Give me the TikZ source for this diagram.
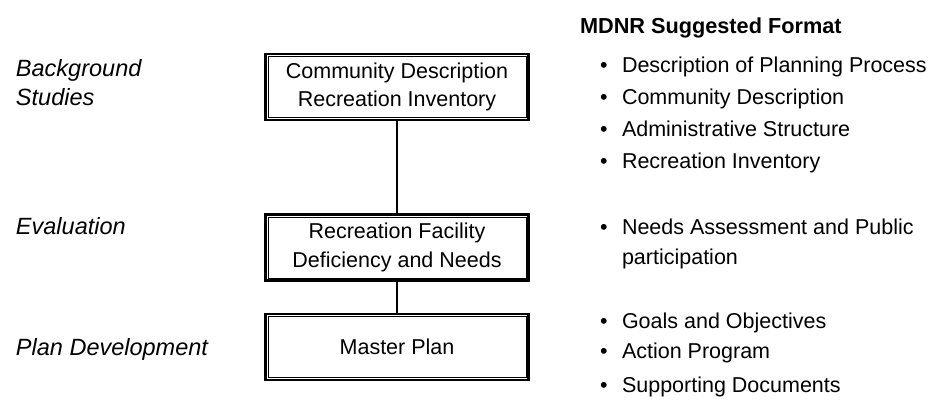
\documentclass[tikz,border=0pt]{standalone}
\usepackage{fontspec}
\setmainfont{Liberation Sans}
\begin{document}
\begin{tikzpicture}[x=1pt,y=-1pt,
  every node/.style={inner sep=0pt, outer sep=0pt},
  lbl/.style={anchor=base west, font=\fontsize{23.5}{29}\selectfont\itshape},
  itm/.style={anchor=base west, font=\fontsize{21.5}{28}\selectfont},
  dot/.style={anchor=base west, font=\fontsize{21.5}{28}\selectfont},
  head/.style={anchor=base west, font=\fontsize{21.7}{26}\selectfont\bfseries},
  inbox/.style={draw, line width=1pt, minimum width=258pt, minimum height=61pt, align=center, font=\fontsize{21.5}{28.5}\selectfont},
  outbox/.style={line width=2.6pt},
  conn/.style={line width=1.6pt}]
\useasboundingbox (0,0) rectangle (952,412);
% boxes
\node[inbox] (b1) at (397,87) {Community Description\\Recreation Inventory};
\node[inbox] (b2) at (397,247.5) {Recreation Facility\\Deficiency and Needs};
\node[inbox] (b3) at (397,347) {Master Plan};
\foreach \n in {b1,b2,b3}{
  \draw[outbox] ([shift={(-2.6pt,2.6pt)}]\n.north west) rectangle ([shift={(2.6pt,-2.6pt)}]\n.south east);
}
\draw[conn] ([yshift=-3.9pt]b1.south) -- ([yshift=3.9pt]b2.north);
\draw[conn] ([yshift=-3.9pt]b2.south) -- ([yshift=3.9pt]b3.north);
% left labels
\node[lbl] (l1) at (16,76) {Background};
\node[lbl] (l1b) at (16,105) {Studies};
\node[lbl] (l2) at (16,234) {Evaluation};
\node[lbl] (l3) at (16,355) {Plan Development};
% right column
\node[head] (h) at (580,34) {MDNR Suggested Format};
\foreach \y/\t [count=\i] in {72/Description of Planning Process,104/Community Description,136/Administrative Structure,168/Recreation Inventory,234/Needs Assessment and Public,328/Goals and Objectives,358/Action Program,392/Supporting Documents}{
  \node[dot] (d\i) at (600,\y) {\textbullet};
  \node[itm] (t\i) at (622,\y) {\t};
}
\node[itm] (t5b) at (622,264) {participation};
\end{tikzpicture}
\end{document}
